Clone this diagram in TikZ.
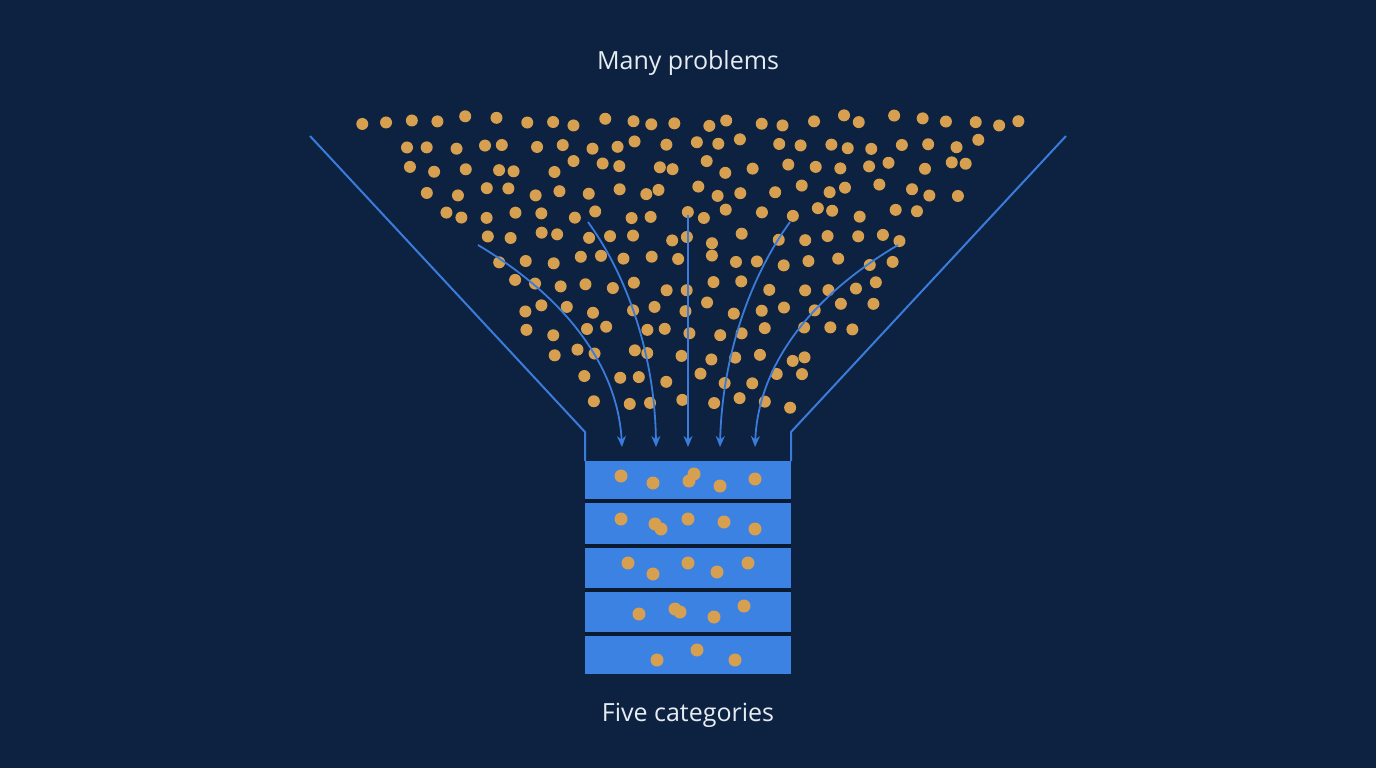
\documentclass[tikz,border=0pt]{standalone}
\usepackage{fontspec}
\setmainfont{Open Sans}
\usetikzlibrary{arrows.meta}
\definecolor{bg}{HTML}{0C2240}
\definecolor{fun}{HTML}{3B7BDB}
\definecolor{boxc}{HTML}{3C82E2}
\definecolor{dot}{HTML}{D6A050}
\definecolor{txt}{HTML}{E6ECF2}
\definecolor{sepc}{HTML}{0A1A30}
\begin{document}
\begin{tikzpicture}[x=1pt,y=-1pt,
  funnel/.style={draw=fun,line width=2pt},
  flow/.style={draw=fun,line width=1.8pt,-{Stealth[length=11pt,width=9pt,open]}},
  bead/.style={fill=dot},
  sep/.style={draw=sepc,line width=4pt},
  lbl/.style={text=txt,font=\fontsize{25}{30}\selectfont}]
\fill[bg] (0,0) rectangle (1376,768);
\useasboundingbox (0,0) rectangle (1376,768);
% dots in funnel
\pgfmathsetseed{11}
\foreach \row in {0,...,12}{
  \foreach \col in {0,...,25}{
    \pgfmathsetmacro\yy{120+\row*23.5+6*rand}
    \pgfmathsetmacro\xx{362+\col*26.5+mod(\row,2)*13+8*rand}
    \pgfmathsetmacro\lb{362+(\yy-125)*0.8}
    \pgfmathsetmacro\rb{1018-(\yy-125)*0.8}
    \pgfmathtruncatemacro\ok{and(\xx>\lb,\xx<\rb)}
    \ifnum\ok=1 \fill[bead] (\xx,\yy) circle (6); \fi
  }
}
% funnel
\coordinate (tl) at (310,136); \coordinate (bl) at (585,432);
\coordinate (tr) at (1066,136); \coordinate (br) at (791,432);
\fill[boxc] (585,461) rectangle (791,674);
\draw[funnel] (tl) -- (bl) -- (585,461);
\draw[funnel] (tr) -- (br) -- (791,461);
\foreach \y in {501,546,590,634} \draw[sep] (585,\y) -- (791,\y);
% box dots
\foreach \p in {(621,476),(653,483),(689,481),(694,474),(720,486),(755,479),
  (621,519),(655,524),(661,529),(688,519),(724,522),(755,529),
  (628,563),(653,574),(688,563),(717,572),(748,563),
  (639,614),(675,609),(680,612),(714,617),(744,606),
  (657,660),(697,650),(735,660)}
  \fill[bead] \p circle (6.5);
% arrows
\coordinate (a1) at (478,245); \coordinate (e1) at (622,447);
\coordinate (a2) at (588,222); \coordinate (e2) at (656,447);
\coordinate (a3) at (688,215); \coordinate (e3) at (688,447);
\coordinate (a4) at (790,222); \coordinate (e4) at (720,447);
\coordinate (a5) at (898,245); \coordinate (e5) at (755,447);
\draw[flow] (a1) .. controls (570,300) and (618,370) .. (e1);
\draw[flow] (a2) .. controls (630,280) and (655,360) .. (e2);
\draw[flow] (a3) -- (e3);
\draw[flow] (a4) .. controls (748,280) and (722,360) .. (e4);
\draw[flow] (a5) .. controls (805,300) and (758,370) .. (e5);
\node[lbl] (top) at (688,63) {Many problems};
\node[lbl] (bot) at (688,715) {Five categories};
\end{tikzpicture}
\end{document}
